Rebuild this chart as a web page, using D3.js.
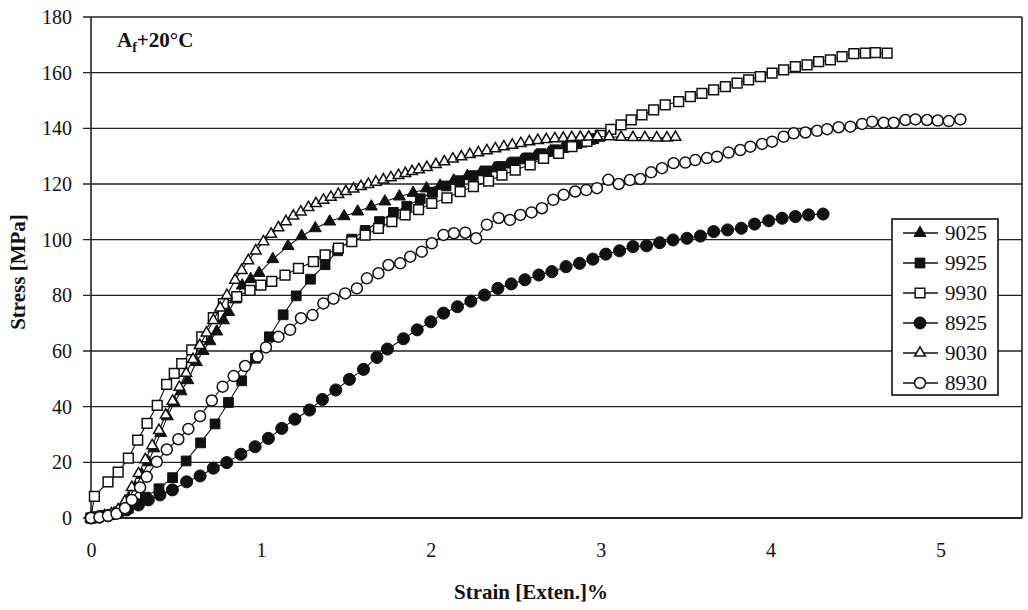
<!DOCTYPE html>
<html>
<head>
<meta charset="utf-8">
<script src="https://cdn.jsdelivr.net/npm/d3@7"></script>
<style>
  html, body { margin: 0; padding: 0; background: #fff; }
  svg { display: block; }
  svg text { font-family: 'Liberation Serif', 'Times New Roman', Times, 'DejaVu Serif', serif !important; fill: #111; }
</style>
</head>
<body>
<svg id="chart" width="1028" height="610"></svg>
<script>
// Stress-strain curves at Af+20°C, [strain %, stress MPa]
const s9025 = [[0,0],[0.04,0.3],[0.08,0.6],[0.12,1],[0.16,2],[0.19,4],[0.22,7],[0.26,11],[0.30,15.5],[0.34,20],[0.37,25],[0.41,30.5],[0.45,36.5],[0.49,41.5],[0.53,45.5],[0.57,49.5],[0.62,56],[0.66,60],[0.70,63.5],[0.74,67],[0.78,71],[0.81,74],[0.85,78.5],[0.89,83.5],[0.94,85.8],[0.99,88],[1.07,93],[1.16,97.7],[1.24,101.3],[1.32,104.1],[1.405,106.5],[1.49,108.4],[1.57,110.1],[1.65,111.9],[1.73,113.7],[1.815,115.5],[1.896,116.8],[1.975,118.4],[2.055,119.4],[2.135,121.2],[2.215,122.8],[2.295,124.2],[2.375,125.6],[2.455,127],[2.535,128.5],[2.615,129.9],[2.695,131.2],[2.775,132.6],[2.855,134],[2.935,135.5],[2.99,136.6]];
const s9925 = [[0,0],[0.04,0.5],[0.08,1],[0.12,1.2],[0.16,2.2],[0.22,3.5],[0.27,5],[0.32,7.5],[0.40,10.5],[0.48,14.5],[0.56,20.5],[0.645,27],[0.73,33.8],[0.809,41.5],[0.887,49.3],[0.968,57.4],[1.05,65.1],[1.131,73],[1.208,79.8],[1.292,85.8],[1.378,91],[1.452,96],[1.535,100.2],[1.614,103.3],[1.698,106.5],[1.78,109.8],[1.859,112],[1.938,114.7],[2.01,117],[2.09,119.3],[2.17,121.2],[2.25,123],[2.33,124.7],[2.41,126.3],[2.49,127.9],[2.57,129.4],[2.65,130.9],[2.73,132.3],[2.81,133.7],[2.89,135],[2.96,136.3]];
const s9930 = [[0,0],[0.02,7.8],[0.10,13],[0.16,16.5],[0.22,21.5],[0.275,28],[0.33,34],[0.39,40.5],[0.445,48],[0.49,52],[0.534,55.5],[0.593,60.4],[0.652,65.1],[0.72,72],[0.779,77],[0.858,79.5],[0.936,81.8],[1.0,83.7],[1.064,85],[1.142,87.3],[1.221,89.7],[1.309,92.1],[1.378,94.5],[1.456,97],[1.535,99.3],[1.614,101.6],[1.692,104.1],[1.771,106.5],[1.849,108.9],[1.928,110.8],[2.006,113],[2.095,115],[2.173,117.3],[2.251,119.1],[2.34,121],[2.419,123.2],[2.497,125],[2.585,126.9],[2.664,129.2],[2.752,131],[2.831,133.4],[2.919,135.3],[2.998,137.5],[3.06,139.6],[3.12,141.2],[3.18,143],[3.243,144.8],[3.312,146.6],[3.38,148.4],[3.459,149.6],[3.528,151.4],[3.596,152.6],[3.665,153.8],[3.734,155],[3.803,156.2],[3.871,157.4],[3.94,158.6],[4.009,159.8],[4.077,161],[4.146,162.2],[4.215,162.8],[4.283,164],[4.352,164.6],[4.421,165.8],[4.49,166.8],[4.558,167],[4.617,167.2],[4.686,167]];
const s8925 = [[0,0],[0.05,0.3],[0.1,0.8],[0.15,1.8],[0.21,2.9],[0.279,4.7],[0.337,6.5],[0.406,8.3],[0.479,10.1],[0.563,13],[0.642,15.1],[0.72,17.9],[0.799,19.9],[0.882,22.9],[0.966,25.6],[1.044,28.6],[1.123,32.2],[1.2,35.5],[1.286,38.8],[1.362,42.6],[1.441,46],[1.521,49.8],[1.604,53.4],[1.683,57.7],[1.745,60.7],[1.839,64.4],[1.92,67.6],[2.0,70.5],[2.075,73.6],[2.157,75.9],[2.236,77.9],[2.316,80.1],[2.395,82.5],[2.474,84.1],[2.554,85.6],[2.636,87.3],[2.713,88.5],[2.796,90.3],[2.876,91.5],[2.954,93],[3.03,94.8],[3.111,96],[3.19,97.5],[3.27,97.8],[3.347,98.9],[3.426,99.9],[3.508,100.5],[3.587,101.3],[3.665,102.9],[3.747,103.5],[3.828,104.1],[3.906,105.6],[3.989,106.8],[4.068,107.7],[4.146,108.3],[4.224,108.9],[4.309,109.2]];
const s9030 = [[0,0],[0.04,0.3],[0.08,0.8],[0.12,1.5],[0.16,3],[0.2,6],[0.24,11],[0.28,16],[0.32,21],[0.36,26],[0.40,31.5],[0.44,37],[0.48,42],[0.52,47],[0.56,52],[0.60,57],[0.64,62],[0.68,66.5],[0.72,71],[0.76,75.5],[0.80,80],[0.848,85.5],[0.887,89],[0.926,92.5],[0.97,96],[1.015,99.3],[1.06,102],[1.103,104.3],[1.147,106.5],[1.191,108.5],[1.235,110],[1.28,111.6],[1.324,113],[1.368,114.2],[1.412,115.3],[1.456,116.3],[1.5,117.3],[1.545,118.2],[1.589,119.1],[1.633,119.9],[1.677,120.7],[1.721,121.5],[1.765,122.3],[1.81,123.1],[1.85,123.8],[1.89,124.5],[1.93,125.2],[1.977,126],[2.03,127],[2.08,128],[2.13,129],[2.18,129.8],[2.23,130.6],[2.28,131.3],[2.33,132],[2.38,132.7],[2.43,133.4],[2.48,134],[2.53,134.6],[2.58,135.2],[2.63,135.7],[2.68,136],[2.73,136.3],[2.78,136.5],[2.83,136.7],[2.88,136.8],[2.93,136.9],[2.98,137],[3.05,137],[3.12,136.8],[3.19,136.7],[3.26,136.7],[3.33,136.6],[3.39,136.6],[3.44,136.8]];
const s8930 = [[0,0],[0.05,0.3],[0.1,0.8],[0.15,1.5],[0.2,3.5],[0.24,6.5],[0.289,11],[0.328,14.8],[0.387,20.2],[0.446,24.6],[0.514,28.3],[0.573,32],[0.642,36.6],[0.711,42.2],[0.775,47.2],[0.84,51],[0.907,54.6],[0.98,58],[1.03,61.3],[1.103,65.1],[1.172,67.6],[1.236,71.8],[1.304,72.9],[1.368,77.1],[1.427,78.8],[1.496,80.7],[1.565,82.5],[1.624,86.1],[1.692,87.9],[1.751,90.9],[1.82,91.5],[1.879,93.9],[1.947,95.7],[2.006,98.7],[2.075,101.7],[2.136,102.3],[2.203,102.5],[2.267,100.5],[2.33,105.4],[2.399,107.8],[2.466,107.1],[2.527,108.9],[2.593,109.8],[2.654,111.3],[2.721,114.3],[2.782,116.1],[2.85,117.3],[2.915,117.8],[2.978,118.5],[3.045,121.5],[3.106,120],[3.172,121.4],[3.233,121.8],[3.297,124.2],[3.361,125.7],[3.429,127.5],[3.498,127.7],[3.557,128.6],[3.626,129.3],[3.685,129.8],[3.753,131.3],[3.822,132.2],[3.881,133.4],[3.95,134.4],[4.009,135.2],[4.077,137],[4.136,138.2],[4.205,138.5],[4.274,139.1],[4.333,139.7],[4.401,140.4],[4.47,140.6],[4.539,141.6],[4.598,142.4],[4.666,142],[4.725,142],[4.794,143],[4.853,143.2],[4.921,143],[4.984,142.8],[5.049,142.6],[5.117,143.2]];

const seriesNames = ["9025", "9925", "9930", "8925", "9030", "8930"];
const seriesData = [s9025, s9925, s9930, s8925, s9030, s8930];
const xTicks = [0, 1, 2, 3, 4, 5];
const yTicks = [0, 20, 40, 60, 80, 100, 120, 140, 160, 180];

const serif = "'Liberation Serif', 'Times New Roman', Times, 'DejaVu Serif', serif";

// marker style per series: symbol shape, area, filled or hollow
const markerStyle = {
  "9025": { type: d3.symbolTriangle, size: 62, filled: true },
  "9925": { type: d3.symbolSquare,   size: 95, filled: true },
  "9930": { type: d3.symbolSquare,   size: 95, filled: false },
  "8925": { type: d3.symbolCircle,   size: 115, filled: true },
  "9030": { type: d3.symbolTriangle, size: 50, filled: false },
  "8930": { type: d3.symbolCircle,   size: 95, filled: false }
};

const svg = d3.select("#chart").attr("font-family", serif);
const plotLeft = 91, plotRight = 1022, plotTop = 17, plotBottom = 518;

const x = d3.scaleLinear().domain([0, 5.48]).range([plotLeft, plotRight]);
const y = d3.scaleLinear().domain([0, 180]).range([plotBottom, plotTop]);

// horizontal grid lines
svg.append("g")
  .selectAll("line")
  .data(yTicks)
  .join("line")
  .attr("x1", plotLeft - 8).attr("x2", plotRight)
  .attr("y1", d => y(d)).attr("y2", d => y(d))
  .attr("stroke", "#222").attr("stroke-width", 1.4);

// frame: left axis, right border, base line
svg.append("line").attr("x1", plotLeft).attr("x2", plotLeft).attr("y1", plotTop).attr("y2", plotBottom)
  .attr("stroke", "#222").attr("stroke-width", 1.6);
svg.append("line").attr("x1", plotRight).attr("x2", plotRight).attr("y1", plotTop).attr("y2", plotBottom)
  .attr("stroke", "#222").attr("stroke-width", 1.6);
svg.append("line").attr("x1", plotLeft).attr("x2", plotRight).attr("y1", plotBottom).attr("y2", plotBottom)
  .attr("stroke", "#222").attr("stroke-width", 2);

// y axis labels
const yAxis = svg.append("g")
  .attr("transform", `translate(${plotLeft},0)`)
  .call(d3.axisLeft(y).tickValues(yTicks).tickSize(8).tickPadding(11));
yAxis.attr("font-family", serif).attr("font-size", 20);
yAxis.select(".domain").remove();
yAxis.selectAll("line").remove();
yAxis.selectAll("text").style("font-family", serif).style("font-size", "20px").attr("fill", "#111");

// x axis labels
const xAxis = svg.append("g")
  .attr("transform", `translate(0,${plotBottom})`)
  .call(d3.axisBottom(x).tickValues(xTicks).tickSize(0).tickPadding(25).tickFormat(d3.format("d")));
xAxis.attr("font-family", serif).attr("font-size", 20);
xAxis.select(".domain").remove();
xAxis.selectAll("text").style("font-family", serif).style("font-size", "20px").attr("fill", "#111");

// axis titles
svg.append("text")
  .attr("transform", "translate(25,272) rotate(-90)")
  .attr("text-anchor", "middle")
  .style("font-family", serif).style("font-size", "21px").style("font-weight", "bold")
  .text("Stress [MPa]");
svg.append("text")
  .attr("x", 531).attr("y", 599)
  .attr("text-anchor", "middle")
  .style("font-family", serif).style("font-size", "21px").style("font-weight", "bold")
  .text("Strain [Exten.]%");

// temperature note
const note = svg.append("text").attr("x", 117).attr("y", 47)
  .style("font-family", serif).style("font-size", "21px").style("font-weight", "bold");
note.append("tspan").text("A");
note.append("tspan").style("font-size", "14px").attr("dy", 5).text("f");
note.append("tspan").attr("dy", -5).text("+20°C");

// curves and markers
const line = d3.line().x(d => x(d[0])).y(d => y(d[1]));
seriesNames.forEach((name, i) => {
  const data = seriesData[i];
  const st = markerStyle[name];
  const g = svg.append("g").attr("class", "series s" + name);
  g.append("path")
    .attr("d", line(data))
    .attr("fill", "none").attr("stroke", "#111").attr("stroke-width", 1.1);
  g.selectAll("path.m")
    .data(data)
    .join("path")
    .attr("class", "m")
    .attr("transform", d => `translate(${x(d[0])},${y(d[1])})`)
    .attr("d", d3.symbol().type(st.type).size(st.size))
    .attr("fill", st.filled ? "#111" : "#fff")
    .attr("stroke", "#111").attr("stroke-width", st.filled ? 1 : 1.5);
});

// legend
const lg = svg.append("g").attr("transform", "translate(892,219)");
lg.append("rect").attr("x", 0).attr("y", 0).attr("width", 106).attr("height", 176)
  .attr("fill", "#fff").attr("stroke", "#111").attr("stroke-width", 1.6);
seriesNames.forEach((name, i) => {
  const st = markerStyle[name];
  const cy = 14 + i * 30;
  lg.append("line").attr("x1", 11).attr("x2", 46).attr("y1", cy).attr("y2", cy)
    .attr("stroke", "#111").attr("stroke-width", 1.4);
  lg.append("path")
    .attr("transform", `translate(28,${cy})`)
    .attr("d", d3.symbol().type(st.type).size(st.size))
    .attr("fill", st.filled ? "#111" : "#fff")
    .attr("stroke", "#111").attr("stroke-width", st.filled ? 1 : 1.5);
  lg.append("text").attr("x", 53).attr("y", cy + 7)
    .style("font-family", serif).style("font-size", "21px").text(name);
});
</script>
</body>
</html>
